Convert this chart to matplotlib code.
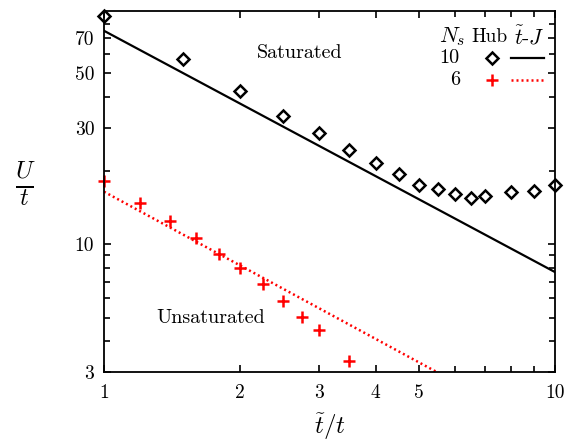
import numpy as np
import matplotlib
matplotlib.use("Agg")
import matplotlib.pyplot as plt
from matplotlib.ticker import FixedLocator, NullFormatter, FixedFormatter

plt.rcParams['font.family'] = 'serif'
plt.rcParams['font.serif'] = ['cmr10', 'DejaVu Serif']
plt.rcParams['mathtext.fontset'] = 'cm'
plt.rcParams['axes.formatter.use_mathtext'] = True

# Hubbard data, N_s = 10
hub10_x = [1.0, 1.5, 2.0, 2.5, 3.0, 3.5, 4.0, 4.5, 5.0, 5.5, 6.0, 6.5, 7.0, 8.0, 9.0, 10.0]
hub10_y = [85.5, 57.3, 42.5, 33.4, 28.5, 24.4, 21.5, 19.4, 17.5, 16.8, 16.0, 15.5, 15.7, 16.3, 16.5, 17.5]

# Hubbard data, N_s = 6
hub6_x = [1.0, 1.2, 1.4, 1.6, 1.8, 2.0, 2.25, 2.5, 2.75, 3.0, 3.5]
hub6_y = [18.2, 14.8, 12.4, 10.6, 9.1, 7.96, 6.85, 5.85, 5.04, 4.44, 3.34]

# t-J model boundaries (power laws, straight on log-log)
tj10_x = [1.0, 10.0]
tj10_y = [74.7, 7.69]
tj6_x = [1.0, 10.0]
tj6_y = [16.4, 1.64]

fig = plt.figure(figsize=(5.74, 4.41), dpi=100)
ax = fig.add_axes([104/574, 1 - 372/441, 451/574, 361/441])

ax.plot(tj10_x, tj10_y, color='black', lw=1.6)
ax.plot(tj6_x, tj6_y, color='red', lw=1.8, linestyle=(0, (0.8, 1.2)))
ax.plot(hub10_x, hub10_y, linestyle='none', marker='D', markersize=6.5,
        markerfacecolor='none', markeredgecolor='black', markeredgewidth=1.8, clip_on=False)
ax.plot(hub6_x, hub6_y, linestyle='none', marker='+', markersize=9,
        color='red', markeredgewidth=1.8, clip_on=False)

ax.set_xscale('log')
ax.set_yscale('log')
ax.set_xlim(1, 10)
ax.set_ylim(3, 90)

xt = [1, 2, 3, 4, 5, 10]
ax.xaxis.set_major_locator(FixedLocator(xt))
ax.xaxis.set_major_formatter(FixedFormatter([str(v) for v in xt]))
ax.xaxis.set_minor_locator(FixedLocator([6, 7, 8, 9]))
ax.xaxis.set_minor_formatter(NullFormatter())

yt = [3, 10, 30, 50, 70]
ax.yaxis.set_major_locator(FixedLocator(yt))
ax.yaxis.set_major_formatter(FixedFormatter([str(v) for v in yt]))
ax.yaxis.set_minor_locator(FixedLocator([4, 5, 6, 7, 8, 9, 20, 40, 60, 80]))
ax.yaxis.set_minor_formatter(NullFormatter())

ax.tick_params(which='both', direction='in', top=True, right=True, width=1.2, labelsize=14)
ax.tick_params(which='major', length=5)
ax.tick_params(axis='x', which='major', pad=9)
ax.tick_params(axis='y', which='major', pad=7)
ax.tick_params(which='minor', length=4)
for s in ax.spines.values():
    s.set_linewidth(1.3)

ax.set_xlabel(r'$\tilde{t}/t$', fontsize=18, labelpad=6)
ax.set_ylabel(r'$\frac{U}{t}$', fontsize=25, rotation=0, labelpad=38, va='center')
ax.yaxis.set_label_coords(-0.175, 0.52)

ax.text(2.72, 60.8, 'Saturated', fontsize=14.5, ha='center', va='center')
ax.text(1.72, 5.0, 'Unsaturated', fontsize=14.5, ha='center', va='center')

# legend table
tr = ax.transAxes
ax.text(0.800, 0.928, r'$N_s$', fontsize=16, ha='right', va='center', transform=tr)
ax.text(0.854, 0.928, 'Hub', fontsize=14, ha='center', va='center', transform=tr)
ax.text(0.943, 0.928, r'$\tilde{t}$-$J$', fontsize=15.5, ha='center', va='center', transform=tr)
ax.text(0.789, 0.870, '10', fontsize=14.5, ha='right', va='center', transform=tr)
ax.text(0.789, 0.809, '6', fontsize=14.5, ha='right', va='center', transform=tr)
ax.plot([0.860], [0.870], marker='D', markersize=6.5, markerfacecolor='none',
        markeredgecolor='black', markeredgewidth=1.8, transform=tr)
ax.plot([0.860], [0.809], marker='+', markersize=9, color='red', markeredgewidth=1.8, transform=tr)
ax.plot([0.902, 0.976], [0.870, 0.870], color='black', lw=1.6, transform=tr)
ax.plot([0.902, 0.976], [0.809, 0.809], color='red', lw=1.8, linestyle=(0, (0.8, 1.2)), transform=tr)

fig.savefig('out.png', dpi=100)
